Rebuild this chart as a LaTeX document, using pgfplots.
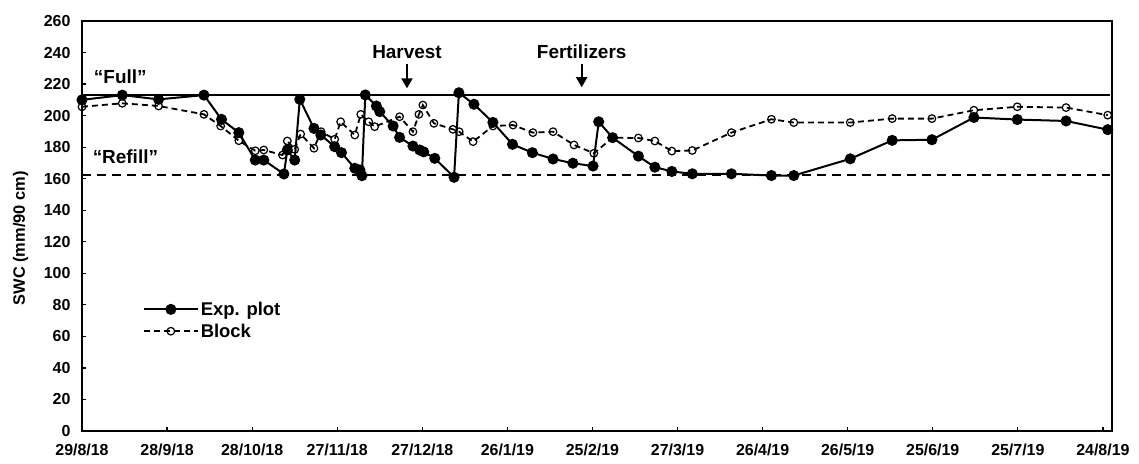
\documentclass[border=0pt]{standalone}
\usepackage{fontspec}
\setmainfont{Liberation Sans}
\usepackage{pgfplots}
\pgfplotsset{compat=1.18}
\usetikzlibrary{arrows.meta}
\begin{document}
\begin{tikzpicture}
\begin{axis}[
  scale only axis, width=1030bp, height=410bp,
  xmin=0, xmax=363.2, ymin=0, ymax=260,
  xtick={0,30,...,360},
  xticklabels={29/8/18,28/9/18,28/10/18,27/11/18,27/12/18,26/1/19,25/2/19,27/3/19,26/4/19,26/5/19,25/6/19,25/7/19,24/8/19},
  ytick={0,20,...,260},
  tick align=inside, xtick pos=bottom, ytick pos=left,
  major tick length=4bp,
  axis line style={line width=1.5bp},
  every tick/.style={line width=1.2bp, black},
  ticklabel style={font=\fontsize{16}{18}\selectfont\bfseries},
  xticklabel style={yshift=-9bp},
  yticklabel style={xshift=-8bp},
  /pgf/number format/assume math mode=true,
  ylabel={SWC (mm/90 cm)},
  every axis y label/.style={at={(axis description cs:-0.0595,0.47)}, rotate=90, anchor=center,
    font=\fontsize{16.5}{18}\selectfont\bfseries},
  clip=false,
  legend style={at={(0.057,0.325)}, anchor=north west, draw=none, fill=none,
    font=\fontsize{18.5}{20}\selectfont\bfseries, row sep=3bp, inner sep=2bp},
  legend cell align=left,
  legend image code/.code={\draw[mark repeat=2,mark phase=2,#1] plot coordinates {(0cm,0cm) (0.95cm,0cm) (1.9cm,0cm)};},
]
\addplot[black, line width=1.4bp, forget plot] coordinates {(0,213) (362.5,213)};
\addplot[black, line width=1.8bp, dash pattern=on 9bp off 6bp, forget plot] coordinates {(0,162.3) (362.5,162.3)};
\addplot[black, line width=2bp, mark=*, mark size=4.5bp, mark options={solid, fill=black}] coordinates {
(0,210) (14.2,213) (27,210.3) (43,213) (49.2,197.6) (55.3,189.2) (61.1,171.8) (64.1,171.8)
(71.2,163) (72.4,178.2) (75,171.8) (76.8,210.3) (81.8,191.9) (84.2,187.7) (89.1,180.3)
(91.5,176.5) (96.2,166.6) (98,165.5) (98.7,161.9) (99.9,213.1) (103.8,206.1) (105,202.5)
(109.7,193.4) (112,186.2) (116.7,180.7) (119.1,178.2) (120.5,177) (124.4,172.9) (131.2,160.9)
(132.9,214.5) (138.2,207.2) (144.9,195.7) (151.8,181.8) (158.8,176.5) (166.1,172.5)
(173.1,169.8) (180.2,168) (182.2,196.1) (187.1,186) (196.2,174.3) (202,167.3) (208,164.6)
(215.2,163.1) (229,163.1) (243.1,162) (251,162) (270.9,172.6) (285.7,184.3) (299.7,184.7)
(314.5,198.8) (329.8,197.5) (347,196.6) (361.7,191.1)
};
\addlegendentry{Exp. plot}
\addplot[black, line width=1.8bp, dash pattern=on 6bp off 4bp, mark=o, mark size=3.8bp, mark options={solid, fill=white, line width=1.2bp}] coordinates {
(0,205.6) (14.2,207.8) (27,206.1) (43,200.8) (48.9,193.4) (55.3,184.1) (61.1,177.7) (64.1,178.2)
(70.7,175) (72.4,183.9) (75,178.6) (77.1,188.3) (81.8,179.3) (84.3,189.8) (89.1,185)
(91.2,196.1) (96.2,187.7) (98.3,200.8) (101.1,196.1) (103.2,193) (112,199.3) (116.7,189.8)
(118.8,200.8) (120.2,206.7) (124.1,195.1) (130.8,191.3) (133,189.8) (137.9,183.5) (144.9,193.4)
(152,194) (159,189.2) (166.1,189.8) (173.5,181.4) (180.5,176.1) (187.1,186) (196.2,185.8)
(202,183.9) (208,177.5) (215.2,177.9) (229,189.2) (243.1,197.7) (251,195.6) (270.9,195.6)
(285.7,198.1) (299.7,198.1) (314.5,203.4) (329.8,205.6) (347,205.1) (361.7,200.3)
};
\addlegendentry{Block}
\node[font=\fontsize{19}{21}\selectfont\bfseries] at (axis cs:13.5,224.5) {“Full”};
\node[font=\fontsize{19}{21}\selectfont\bfseries] at (axis cs:15.3,174) {“Refill”};
\node[font=\fontsize{19}{21}\selectfont\bfseries] at (axis cs:114.6,240.5) {Harvest};
\node[font=\fontsize{19}{21}\selectfont\bfseries] at (axis cs:176.2,240.5) {Fertilizers};
\draw[-{Triangle[length=10bp,width=11bp]}, line width=2bp] (axis cs:114.6,233) -- (axis cs:114.6,217.3);
\draw[-{Triangle[length=10bp,width=11bp]}, line width=2bp] (axis cs:176.2,233) -- (axis cs:176.2,218);
\path (rel axis cs:0,0) ++(-82bp,-33bp);
\path (rel axis cs:1,1) ++(27bp,21bp);
\end{axis}
\end{tikzpicture}
\end{document}
